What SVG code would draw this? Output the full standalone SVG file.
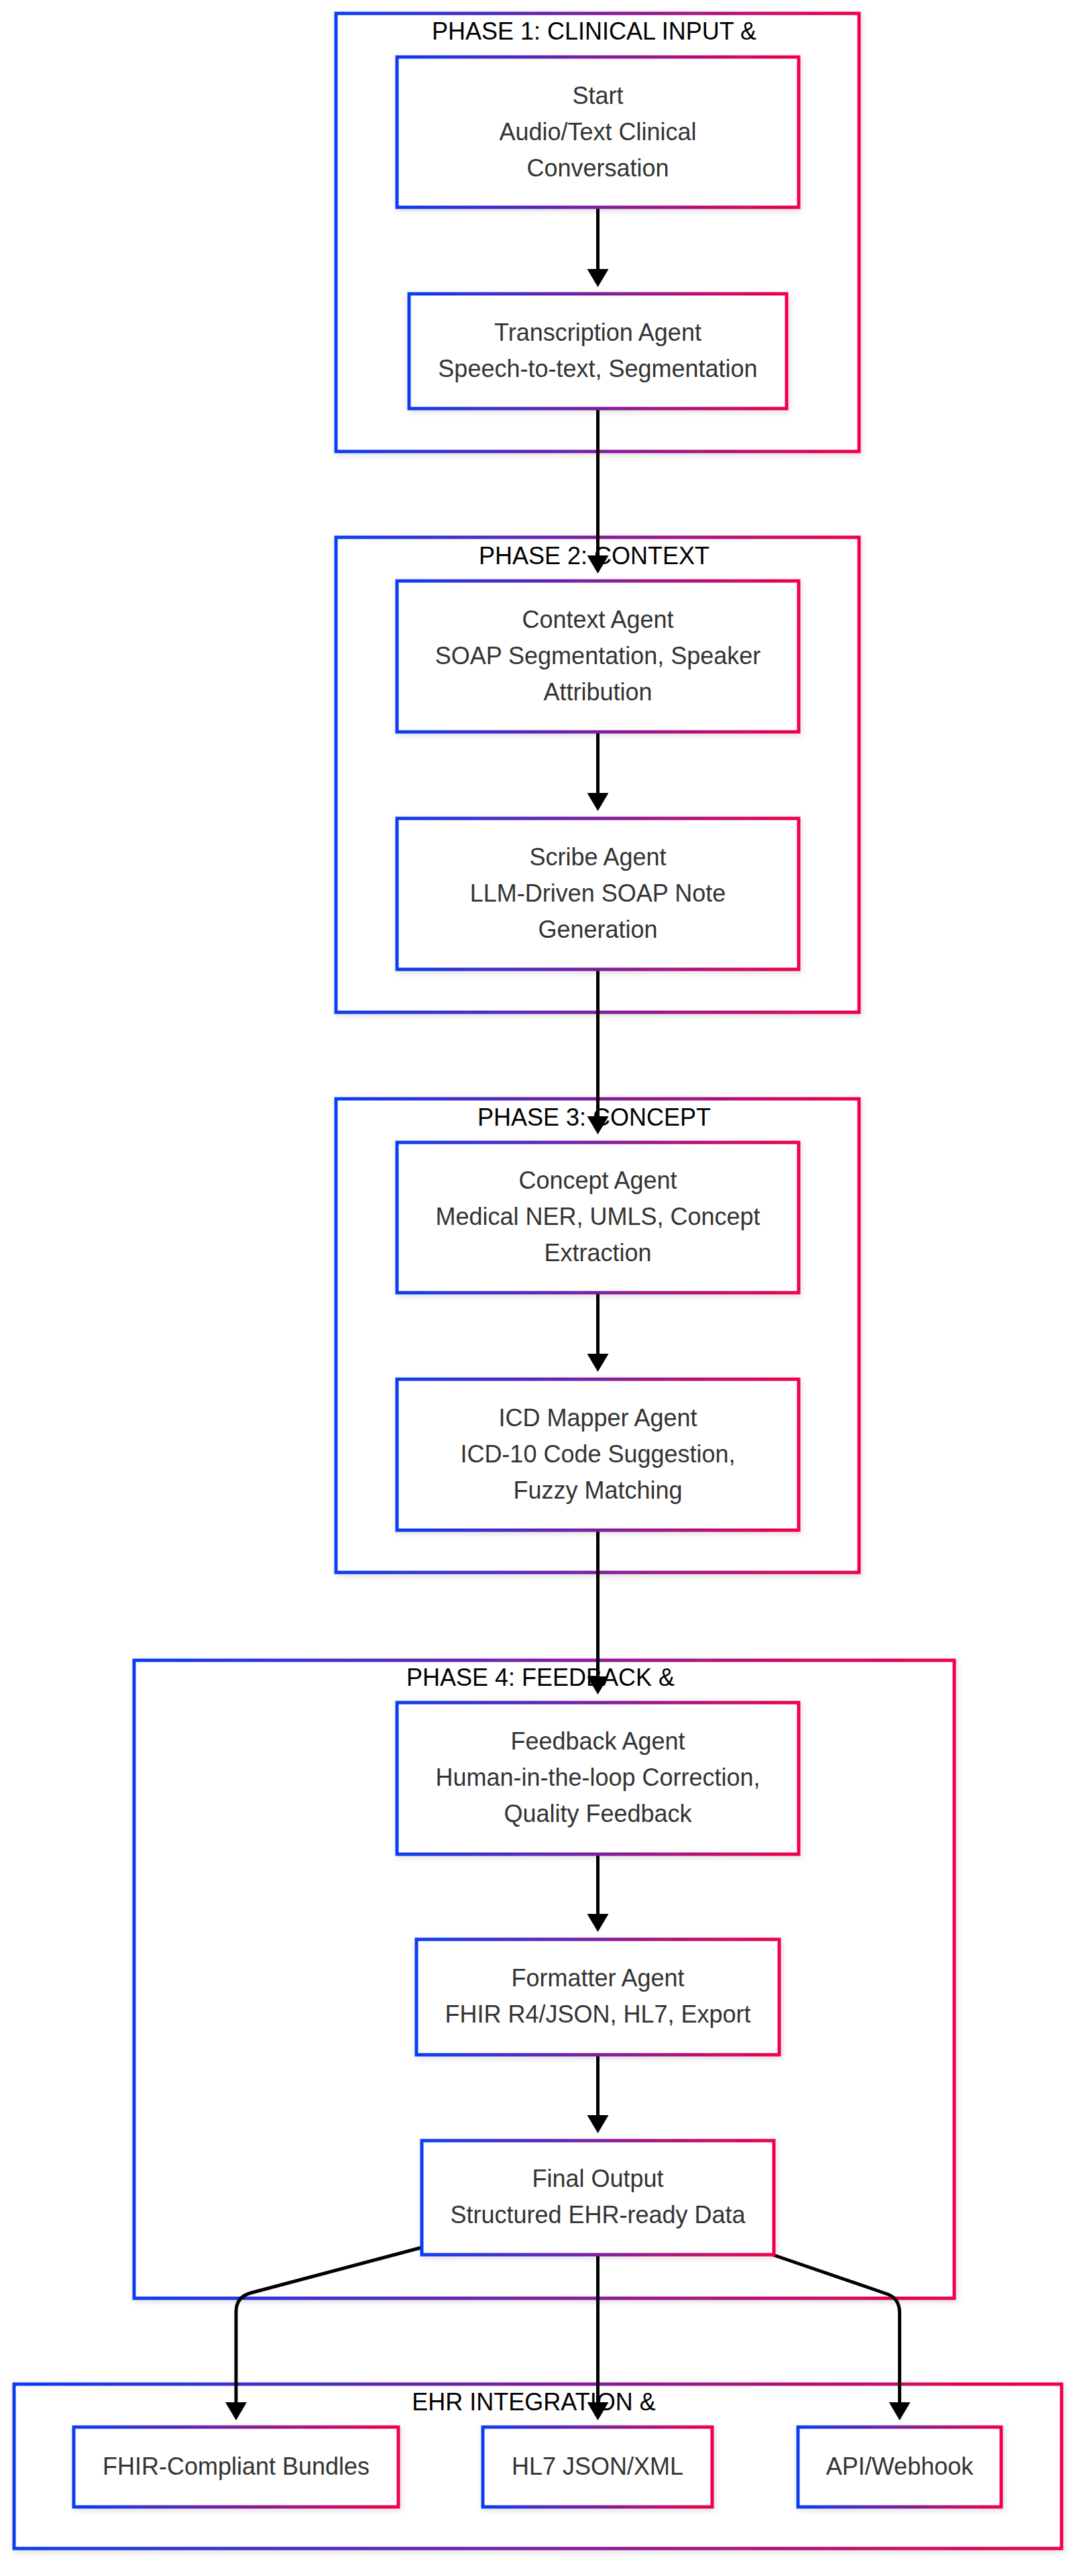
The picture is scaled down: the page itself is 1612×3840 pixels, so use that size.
<svg xmlns="http://www.w3.org/2000/svg" width="1612" height="3840" viewBox="0 0 1612 3840">
<style>
.cl{fill:#ffffff;stroke:url(#g);stroke-width:5;filter:url(#sh)}
.nd{fill:#ffffff;stroke:url(#g);stroke-width:5;filter:url(#sh)}
.ttl{font-family:"Liberation Sans",Arial,sans-serif;font-size:36px;fill:#000000;text-anchor:middle}
.tx{font-family:"Liberation Sans",Arial,sans-serif;font-size:36px;fill:#333333;text-anchor:middle}
.ed{fill:none;stroke:#000000;stroke-width:5;marker-end:url(#ah)}
</style>
<defs>
<linearGradient id="g" x1="0" y1="0" x2="1" y2="0">
<stop offset="0" stop-color="#0a3cf0"/>
<stop offset="1" stop-color="#f0004c"/>
</linearGradient>
<filter id="sh" x="-10%" y="-10%" width="120%" height="130%">
<feDropShadow dx="2" dy="3" stdDeviation="4" flood-color="#000000" flood-opacity="0.13"/>
</filter>
<marker id="ah" markerUnits="userSpaceOnUse" markerWidth="27" markerHeight="32" viewBox="0 0 27 32" refX="0" refY="16" orient="auto">
<path d="M0,0 L27,16 L0,32 z" fill="#000000"/>
</marker>
</defs>
<rect width="1612" height="3840" fill="#ffffff"/>

<g id="clusters">
<g id="phase1"><rect class="cl" x="501" y="20" width="780" height="653"/><text class="ttl" x="886" y="59">PHASE 1: CLINICAL INPUT &amp;</text></g>
<g id="phase2"><rect class="cl" x="501" y="801" width="780" height="708"/><text class="ttl" x="886" y="841">PHASE 2: CONTEXT</text></g>
<g id="phase3"><rect class="cl" x="501" y="1638" width="780" height="706"/><text class="ttl" x="886" y="1678">PHASE 3: CONCEPT</text></g>
<g id="phase4"><rect class="cl" x="200" y="2475" width="1223" height="951"/><text class="ttl" x="806" y="2513">PHASE 4: FEEDBACK &amp;</text></g>
<g id="ehr"><rect class="cl" x="21" y="3554" width="1562" height="245"/><text class="ttl" x="796" y="3593">EHR INTEGRATION &amp;</text></g>
</g>

<g id="connectors">
<path class="ed" d="M891.5,309 L891.5,401"/>
<path class="ed" d="M891.5,609 L891.5,828"/>
<path class="ed" d="M891.5,1091 L891.5,1182"/>
<path class="ed" d="M891.5,1445 L891.5,1664"/>
<path class="ed" d="M891.5,1927 L891.5,2018"/>
<path class="ed" d="M891.5,2281 L891.5,2499"/>
<path class="ed" d="M891.5,2764 L891.5,2853"/>
<path class="ed" d="M891.5,3063 L891.5,3153"/>
<path class="ed" d="M630,3350 L374,3418 Q352,3424 352,3446 L352,3581"/>
<path class="ed" d="M891.5,3361 L891.5,3581"/>
<path class="ed" d="M1152,3361 L1324,3420 Q1341.5,3427 1341.5,3448 L1341.5,3581"/>
</g>

<g id="start"><rect class="nd" x="592" y="85" width="599" height="224"/>
<text class="tx" x="891.5" y="155">Start</text><text class="tx" x="891.5" y="209">Audio/Text Clinical</text><text class="tx" x="891.5" y="263">Conversation</text></g>
<g id="transcription"><rect class="nd" x="610" y="438" width="563" height="171"/>
<text class="tx" x="891.5" y="508">Transcription Agent</text><text class="tx" x="891.5" y="562">Speech-to-text, Segmentation</text></g>
<g id="context"><rect class="nd" x="592" y="866" width="599" height="225"/>
<text class="tx" x="891.5" y="936">Context Agent</text><text class="tx" x="891.5" y="990">SOAP Segmentation, Speaker</text><text class="tx" x="891.5" y="1044">Attribution</text></g>
<g id="scribe"><rect class="nd" x="592" y="1220" width="599" height="225"/>
<text class="tx" x="891.5" y="1290">Scribe Agent</text><text class="tx" x="891.5" y="1344">LLM-Driven SOAP Note</text><text class="tx" x="891.5" y="1398">Generation</text></g>
<g id="concept"><rect class="nd" x="592" y="1703" width="599" height="224"/>
<text class="tx" x="891.5" y="1772">Concept Agent</text><text class="tx" x="891.5" y="1826">Medical NER, UMLS, Concept</text><text class="tx" x="891.5" y="1880">Extraction</text></g>
<g id="icdmapper"><rect class="nd" x="592" y="2056" width="599" height="225"/>
<text class="tx" x="891.5" y="2126">ICD Mapper Agent</text><text class="tx" x="891.5" y="2180">ICD-10 Code Suggestion,</text><text class="tx" x="891.5" y="2234">Fuzzy Matching</text></g>
<g id="feedback"><rect class="nd" x="592" y="2538" width="599" height="226"/>
<text class="tx" x="891.5" y="2608">Feedback Agent</text><text class="tx" x="891.5" y="2662">Human-in-the-loop Correction,</text><text class="tx" x="891.5" y="2716">Quality Feedback</text></g>
<g id="formatter"><rect class="nd" x="621" y="2891" width="541" height="172"/>
<text class="tx" x="891.5" y="2961">Formatter Agent</text><text class="tx" x="891.5" y="3015">FHIR R4/JSON, HL7, Export</text></g>
<g id="finaloutput"><rect class="nd" x="629" y="3191" width="525" height="170"/>
<text class="tx" x="891.5" y="3260">Final Output</text><text class="tx" x="891.5" y="3314">Structured EHR-ready Data</text></g>
<g id="fhir"><rect class="nd" x="110" y="3618" width="484" height="119"/>
<text class="tx" x="352" y="3689">FHIR-Compliant Bundles</text></g>
<g id="hl7"><rect class="nd" x="720" y="3618" width="342" height="119"/>
<text class="tx" x="891" y="3689">HL7 JSON/XML</text></g>
<g id="api"><rect class="nd" x="1190" y="3618" width="303" height="119"/>
<text class="tx" x="1341.5" y="3689">API/Webhook</text></g>
</svg>
